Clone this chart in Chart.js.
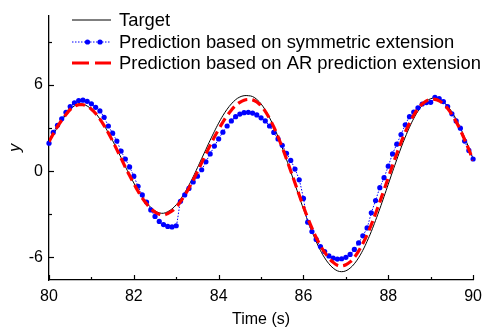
<!DOCTYPE html>
<html>
<head>
<meta charset="utf-8">
<script src="https://cdn.jsdelivr.net/npm/chart.js@4.4.1/dist/chart.umd.min.js"></script>
<style>
  body { margin: 0; background: #fff; }
  canvas { display: block; }
</style>
</head>
<body>
<canvas id="chart" width="489" height="329"></canvas>
<script>
// sample times (s)
const times = [
  80.0, 80.1, 80.2, 80.3, 80.4, 80.5, 80.6, 80.7, 80.8, 80.9,
  81.0, 81.1, 81.2, 81.3, 81.4, 81.5, 81.6, 81.7, 81.8, 81.9,
  82.0, 82.1, 82.2, 82.3, 82.4, 82.5, 82.6, 82.7, 82.8, 82.9,
  83.0, 83.1, 83.2, 83.3, 83.4, 83.5, 83.6, 83.7, 83.8, 83.9,
  84.0, 84.1, 84.2, 84.3, 84.4, 84.5, 84.6, 84.7, 84.8, 84.9,
  85.0, 85.1, 85.2, 85.3, 85.4, 85.5, 85.6, 85.7, 85.8, 85.9,
  86.0, 86.1, 86.2, 86.3, 86.4, 86.5, 86.6, 86.7, 86.8, 86.9,
  87.0, 87.1, 87.2, 87.3, 87.4, 87.5, 87.6, 87.7, 87.8, 87.9,
  88.0, 88.1, 88.2, 88.3, 88.4, 88.5, 88.6, 88.7, 88.8, 88.9,
  89.0, 89.1, 89.2, 89.3, 89.4, 89.5, 89.6, 89.7, 89.8, 89.9,
  90.0, 90.1
];

const target = [
  2.0, 2.55, 3.05, 3.5, 3.95, 4.3, 4.55, 4.7, 4.67, 4.54,
  4.33, 4.03, 3.64, 3.19, 2.68, 2.13, 1.54, 0.94, 0.33, -0.26,
  -0.82, -1.35, -1.81, -2.2, -2.52, -2.76, -2.9, -2.93, -2.82, -2.63,
  -2.34, -1.96, -1.49, -0.97, -0.39, 0.24, 0.88, 1.52, 2.16, 2.77,
  3.35, 3.87, 4.32, 4.69, 4.98, 5.17, 5.26, 5.26, 5.2, 5.0,
  4.69, 4.26, 3.73, 3.1, 2.4, 1.63, 0.82, -0.04, -0.91, -1.79,
  -2.63, -3.44, -4.21, -4.9, -5.52, -6.04, -6.45, -6.75, -6.94, -7.0,
  -6.94, -6.75, -6.45, -6.03, -5.51, -4.89, -4.2, -3.43, -2.62, -1.77,
  -0.91, -0.04, 0.8, 1.62, 2.37, 3.06, 3.67, 4.18, 4.59, 4.88,
  5.05, 5.1, 5.03, 4.84, 4.53, 4.13, 3.62, 3.02, 2.35, 1.63,
  0.86
];

const symmetric = [
  1.95, 2.7, 3.2, 3.65, 4.1, 4.5, 4.76, 4.92, 4.95, 4.87,
  4.7, 4.45, 4.2, 3.75, 3.15, 2.65, 2.1, 1.4, 0.85, 0.3,
  -0.35, -1.05, -1.65, -2.15, -2.7, -3.15, -3.5, -3.72, -3.85, -3.88,
  -3.8, -2.1, -1.65, -1.2, -0.75, -0.35, 0.1, 0.65, 1.2, 1.75,
  2.25, 2.72, 3.15, 3.5, 3.8, 3.98, 4.08, 4.1, 4.05, 3.92,
  3.72, 3.5, 3.15, 2.7, 2.25, 1.8, 1.25, 0.75, 0.15, -0.6,
  -1.9, -3.55, -4.2, -4.75, -5.25, -5.6, -5.9, -6.05, -6.12, -6.1,
  -6.0, -5.8, -5.45, -5.0, -4.5, -3.95, -2.9, -2.05, -1.15, -0.45,
  0.35, 1.2, 1.88, 2.55, 3.23, 3.8, 4.12, 4.42, 4.68, 4.78,
  4.8, 5.15, 5.05, 4.85, 4.5, 4.0, 3.5, 3.0, 2.1, 1.45,
  0.85, 0.1
];

const arExtension = [
  2.05, 2.6, 3.1, 3.55, 3.95, 4.3, 4.52, 4.63, 4.63, 4.52,
  4.32, 4.02, 3.63, 3.18, 2.66, 2.1, 1.5, 0.9, 0.28, -0.3,
  -0.86, -1.4, -1.87, -2.27, -2.6, -2.85, -3.0, -3.05, -2.95, -2.78,
  -2.5, -2.12, -1.68, -1.17, -0.62, -0.03, 0.58, 1.2, 1.8, 2.38,
  2.92, 3.42, 3.87, 4.25, 4.57, 4.8, 4.95, 5.0, 4.97, 4.82,
  4.55, 4.17, 3.67, 3.08, 2.4, 1.65, 0.85, 0.02, -0.82, -1.66,
  -2.47, -3.25, -3.97, -4.62, -5.18, -5.66, -6.05, -6.35, -6.55, -6.6,
  -6.52, -6.32, -6.0, -5.57, -5.04, -4.42, -3.72, -2.95, -2.14, -1.3,
  -0.45, 0.4, 1.22, 2.0, 2.72, 3.35, 3.9, 4.35, 4.68, 4.9,
  5.0, 5.0, 4.9, 4.68, 4.37, 3.95, 3.45, 2.86, 2.2, 1.5,
  0.75
];

const seriesNames = [
  "Target",
  "Prediction based on symmetric extension",
  "Prediction based on AR prediction extension"
];

const xTicks = [80, 82, 84, 86, 88, 90];
const xMinorTicks = [81, 83, 85, 87, 89];
const yTicks = [-6, 0, 6];
const yMinorTicks = [-3, 3, 9];

const FONT = "Arial, 'Liberation Sans', sans-serif";

const toPoints = vals => vals.map((v, i) => ({ x: times[i], y: v }));

// tick marks pointing into the plot, like the original
const innerTicks = {
    id: "innerTicks",
    afterDraw(chart) {
        const { ctx, chartArea, scales } = chart;
        ctx.save();
        ctx.strokeStyle = "#000";
        ctx.lineWidth = 1.2;
        const tickX = (v, len) => {
            const px = Math.round(scales.x.getPixelForValue(v)) + 0.5;
            ctx.beginPath();
            ctx.moveTo(px, chartArea.bottom);
            ctx.lineTo(px, chartArea.bottom - len);
            ctx.stroke();
        };
        const tickY = (v, len) => {
            const py = Math.round(scales.y.getPixelForValue(v)) + 0.5;
            ctx.beginPath();
            ctx.moveTo(chartArea.left, py);
            ctx.lineTo(chartArea.left + len, py);
            ctx.stroke();
        };
        xTicks.forEach(v => tickX(v, 5));
        xMinorTicks.forEach(v => tickX(v, 3));
        yTicks.forEach(v => tickY(v, 5));
        yMinorTicks.forEach(v => tickY(v, 3));
        ctx.restore();
    }
};

// legend in the top-left corner of the plot
const boxLegend = {
    id: "boxLegend",
    afterDraw(chart) {
        const { ctx } = chart;
        const rows = [20, 42, 63];
        ctx.save();
        chart.data.datasets.forEach((ds, i) => {
            const y = rows[i];
            ctx.strokeStyle = ds.borderColor;
            ctx.lineWidth = ds.borderWidth;
            ctx.setLineDash(ds.legendDash || ds.borderDash || []);
            ctx.beginPath();
            ctx.moveTo(72, y);
            ctx.lineTo(111, y);
            ctx.stroke();
            ctx.setLineDash([]);
            if (ds.pointRadius > 0) {
                ctx.fillStyle = ds.pointBackgroundColor;
                [87.5, 100].forEach(px => {
                    ctx.beginPath();
                    ctx.arc(px, y, ds.pointRadius, 0, Math.PI * 2);
                    ctx.fill();
                });
            }
            ctx.fillStyle = "#000";
            ctx.font = "18.4px " + FONT;
            ctx.textBaseline = "middle";
            ctx.fillText(ds.label, 119, y + 1);
        });
        ctx.restore();
    }
};

new Chart(document.getElementById("chart"), {
    type: "line",
    data: {
        datasets: [
            {
                label: seriesNames[0],
                data: toPoints(target),
                borderColor: "#000",
                borderWidth: 1,
                pointRadius: 0,
                tension: 0.4,
                order: 2
            },
            {
                label: seriesNames[1],
                data: toPoints(symmetric),
                borderColor: "#0000ff",
                borderWidth: 1,
                borderDash: [1.5, 1.5],
                pointRadius: 2.6,
                pointBackgroundColor: "#0000ff",
                pointBorderWidth: 0,
                tension: 0.2,
                clip: false,
                order: 1
            },
            {
                label: seriesNames[2],
                data: toPoints(arExtension),
                borderColor: "#ff0000",
                borderWidth: 3.2,
                borderDash: [10, 5],
                legendDash: [17, 6],
                pointRadius: 0,
                tension: 0.4,
                order: 0
            }
        ]
    },
    options: {
        responsive: false,
        animation: false,
        layout: { padding: { left: 0, right: 11, top: 11, bottom: 0 } },
        plugins: {
            legend: { display: false },
            tooltip: { enabled: false }
        },
        scales: {
            x: {
                type: "linear",
                min: 80,
                max: 90,
                afterBuildTicks: s => { s.ticks = xTicks.map(v => ({ value: v })); },
                afterFit: s => { s.height = 49; },
                grid: { display: false, drawTicks: false },
                border: { display: true, color: "#000", width: 1.3 },
                ticks: { color: "#000", font: { family: FONT, size: 16 }, padding: 7, maxRotation: 0 },
                title: {
                    display: true,
                    text: "Time (s)",
                    color: "#000",
                    font: { family: FONT, size: 16 },
                    padding: { top: 0, bottom: 0 }
                }
            },
            y: {
                min: -7.58,
                max: 10.84,
                afterBuildTicks: s => { s.ticks = yTicks.map(v => ({ value: v })); },
                afterFit: s => { s.width = 49; },
                grid: { display: false, drawTicks: false },
                border: { display: true, color: "#000", width: 1.3 },
                ticks: { color: "#000", font: { family: FONT, size: 16 }, padding: 6 },
                title: {
                    display: true,
                    text: "y",
                    color: "#000",
                    font: { family: FONT, size: 16, style: "italic" },
                    padding: { top: 6, bottom: 0 }
                }
            }
        }
    },
    plugins: [innerTicks, boxLegend]
});
</script>
</body>
</html>
